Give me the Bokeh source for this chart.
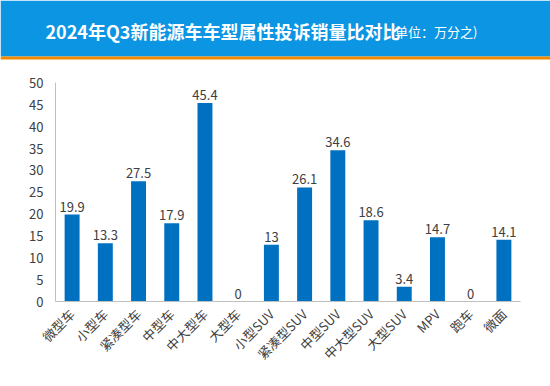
import math
from bokeh.plotting import figure
from bokeh.models import ColumnDataSource, FixedTicker, Range1d, Label
from bokeh.core.properties import value
from bokeh.embed import file_html
from bokeh.resources import INLINE

categories = ["微型车", "小型车", "紧凑型车", "中型车", "中大型车", "大型车", "小型SUV",
              "紧凑型SUV", "中型SUV", "中大型SUV", "大型SUV", "MPV", "跑车", "微面"]
values = [19.9, 13.3, 27.5, 17.9, 45.4, 0, 13, 26.1, 34.6, 18.6, 3.4, 14.7, 0, 14.1]
value_labels = ["19.9", "13.3", "27.5", "17.9", "45.4", "0", "13", "26.1", "34.6",
                "18.6", "3.4", "14.7", "0", "14.1"]
y_ticks = [0, 5, 10, 15, 20, 25, 30, 35, 40, 45, 50]

title_text = "2024年Q3新能源车车型属性投诉销量比对比"
unit_text = "(单位：万分之)"
watermark = "车质网"
watermark_site = "12365auto.com"

FONT = "Noto Sans CJK SC"
W = 550

# Header figure
h = figure(width=W, height=60, x_range=Range1d(0, W), y_range=Range1d(0, 60),
           output_backend="svg", toolbar_location=None, min_border=0)
h.axis.visible = False
h.grid.visible = False
h.outline_line_color = None
h.quad(left=[0], right=[W], bottom=[4], top=[60], fill_color="#0b95e3", line_color=None)
h.quad(left=[0], right=[W], bottom=[1], top=[4], fill_color="#f08a00", line_color=None)
h.add_layout(Label(x=45, y=30, text=title_text, text_font=FONT, text_font_size="18px",
                   text_font_style="bold", text_color="white", text_baseline="middle"))
h.add_layout(Label(x=390, y=29, text=unit_text, text_font=FONT, text_font_size="13px",
                   text_color="white", text_baseline="middle"))

# Chart figure
src = ColumnDataSource(dict(cat=categories, val=values, lab=value_labels))
p = figure(width=W, height=326, x_range=categories, y_range=Range1d(0, 50.1),
           output_backend="svg", toolbar_location=None,
           min_border_left=55, min_border_right=30, min_border_top=22, min_border_bottom=85)
p.vbar(x="cat", top="val", width=0.45, source=src, fill_color="#0070c0", line_color=None)
p.text(x="cat", y="val", text="lab", source=src, text_align="center", text_baseline="bottom",
       y_offset=-3, text_font=value(FONT), text_font_size="13px", text_color="#404040")

p.grid.visible = False
p.outline_line_color = None
p.yaxis.ticker = FixedTicker(ticks=y_ticks)
for ax in (p.xaxis, p.yaxis):
    ax.axis_line_color = "#bfbfbf"
    ax.major_tick_line_color = None
    ax.minor_tick_line_color = None
    ax.major_label_text_font = FONT
    ax.major_label_text_font_size = "13px"
    ax.major_label_text_color = "#404040"
p.yaxis.major_label_standoff = 6
p.xaxis.major_label_standoff = 4
p.xaxis.major_label_orientation = math.pi / 4
p.x_range.range_padding = 0.0

p.add_layout(Label(x=345, y=-64, x_units="screen", y_units="screen", text=watermark,
                   text_font=FONT, text_font_size="16px", text_font_style="bold",
                   text_color="#a0a0a0", text_baseline="middle"))
p.add_layout(Label(x=403, y=-63, x_units="screen", y_units="screen", text=watermark_site,
                   text_font="DejaVu Sans", text_font_size="11px",
                   text_color="#a0a0a0", text_baseline="middle"))

open("out.html", "w").write(file_html([h, p], INLINE))
